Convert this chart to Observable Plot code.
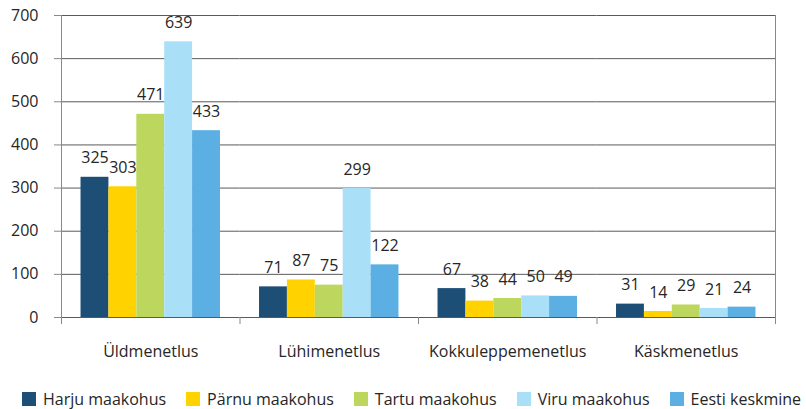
<!DOCTYPE html>
<html><head><meta charset="utf-8">
<script src="https://cdn.jsdelivr.net/npm/d3@7"></script>
<script src="https://cdn.jsdelivr.net/npm/@observablehq/plot@0.6"></script>
<style>
body{margin:0;background:#fff;font-family:"Open Sans",sans-serif;}
#legend{display:flex;align-items:center;margin-left:22px;height:21px;font-size:16px;line-height:18px;color:#262626;}
.item{display:flex;align-items:center;margin-right:20px;white-space:nowrap;}
.sw{width:14px;height:14px;margin-right:7px;}
</style></head><body><div id="chart"></div><div id="legend"></div>
<script>
const categories = ["Üldmenetlus","Lühimenetlus","Kokkuleppemenetlus","Käskmenetlus"];
const series = ["Harju maakohus","Pärnu maakohus","Tartu maakohus","Viru maakohus","Eesti keskmine"];
const colors = ["#1D4E76","#FFD200","#BDD75E","#A9E0F8","#5BAFE3"];
const harju = [325,71,67,31];
const parnu = [303,87,38,14];
const tartu = [471,75,44,29];
const viru = [639,299,50,21];
const eesti = [433,122,49,24];
const yTicks = [0,100,200,300,400,500,600,700];

const valuesBySeries = [harju, parnu, tartu, viru, eesti];
const data = [];
categories.forEach((c, ci) => series.forEach((s, si) => data.push({cat: c, series: s, value: valuesBySeries[si][ci]})));

const W = 806, H = 388, ML = 61, MR = 31, MT = 15, MB = 71;
const plot = Plot.plot({
  width: W, height: H, marginLeft: ML, marginRight: MR, marginTop: MT, marginBottom: MB,
  style: {fontFamily: "'Open Sans', sans-serif", fontSize: "16px", color: "#262626", background: "#fff"},
  fx: {domain: categories, padding: 0, label: null, round: false},
  x: {domain: series, paddingInner: 0, paddingOuter: 0.7, axis: null, round: false},
  y: {domain: [0, 700], label: null},
  color: {domain: series, range: colors},
  marks: [
    Plot.gridY(yTicks, {stroke: "#5a5a5a", strokeOpacity: 1}),
    Plot.barY(data, {fx: "cat", x: "series", y: "value", fill: "series"}),
    Plot.text(data, {fx: "cat", x: "series", y: "value", text: d => String(d.value), dy: -19, lineAnchor: "middle", fill: "#262626"}),
    Plot.axisY(yTicks, {tickSize: 7, tickPadding: 16, stroke: "#888", fill: "#262626", label: null}),
    Plot.axisFx({anchor: "bottom", tickSize: 0, tickPadding: 28, label: null, fill: "#262626"}),
    Plot.frame({anchor: "left", facet: "super", stroke: "#888", insetBottom: -6}),
    Plot.frame({anchor: "right", facet: "super", stroke: "#888", insetBottom: -6}),
    Plot.frame({anchor: "left", stroke: "#888", insetTop: H - MT - MB, insetBottom: -6})
  ]
});
document.getElementById("chart").appendChild(plot);

const legend = document.getElementById("legend");
series.forEach((s, i) => {
  const item = document.createElement("div");
  item.className = "item";
  const sw = document.createElement("div");
  sw.className = "sw";
  sw.style.background = colors[i];
  const t = document.createElement("span");
  t.textContent = s;
  item.appendChild(sw); item.appendChild(t);
  legend.appendChild(item);
});
</script></body></html>
